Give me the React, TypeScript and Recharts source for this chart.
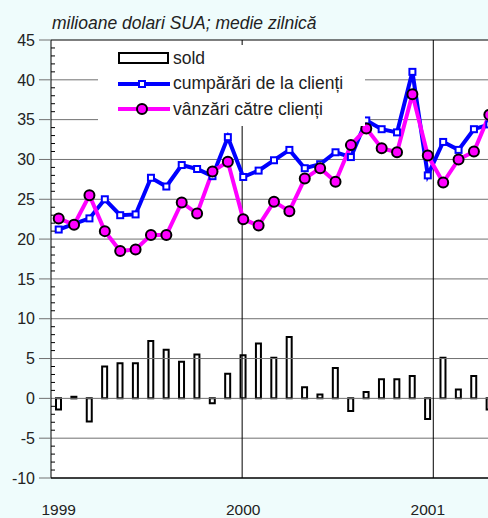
import { Bar, ComposedChart, Legend, Line, ReferenceLine, XAxis, YAxis } from "recharts";

const FONT = '"Liberation Sans", Arial, Helvetica, sans-serif';

// lunar, ian. 1999 - mai 2001
const months = [
  "1999-01", "1999-02", "1999-03", "1999-04", "1999-05", "1999-06",
  "1999-07", "1999-08", "1999-09", "1999-10", "1999-11", "1999-12",
  "2000-01", "2000-02", "2000-03", "2000-04", "2000-05", "2000-06",
  "2000-07", "2000-08", "2000-09", "2000-10", "2000-11", "2000-12",
  "2001-01", "2001-02", "2001-03", "2001-04", "2001-05",
];

const cumparari = [
  21.2, 21.9, 22.6, 25.0, 23.0, 23.1, 27.7, 26.6, 29.3, 28.8, 27.9, 32.8,
  27.8, 28.6, 29.9, 31.2, 28.9, 29.4, 30.9, 30.3, 34.9, 33.8, 33.4, 41.0,
  28.0, 32.2, 31.2, 33.8, 34.4,
];

const vanzari = [
  22.6, 21.8, 25.5, 21.0, 18.5, 18.7, 20.5, 20.5, 24.6, 23.2, 28.5, 29.7,
  22.5, 21.7, 24.7, 23.5, 27.6, 28.9, 27.2, 31.8, 33.9, 31.4, 30.9, 38.2,
  30.5, 27.1, 30.0, 31.0, 35.6,
];

const sold = [
  -1.4, 0.2, -2.9, 4.0, 4.4, 4.4, 7.2, 6.1, 4.6, 5.5, -0.6, 3.1,
  5.4, 6.9, 5.1, 7.7, 1.4, 0.5, 3.8, -1.6, 0.8, 2.4, 2.4, 2.8,
  -2.6, 5.1, 1.1, 2.8, -1.4,
];

const yearTicks = ["1999-01", "2000-01", "2001-01"];
const yearBreaks = [12, 24];
const gridValues = [-5, 0, 5, 10, 15, 20, 25, 30, 35, 40];
const yTicks = Array.from({ length: 56 }, (_, i) => i - 10);

const legendNames = ["sold", "cumpărări de la clienți", "vânzări către clienți"];

const data = months.map((m, i) => ({
  m,
  buy: cumparari[i],
  sell: vanzari[i],
  sold: sold[i],
}));

function YTick({ x, y, payload }: any) {
  const v = payload.value;
  if (v % 5 !== 0) {
    return <line x1={x} x2={x + 4} y1={y} y2={y} stroke="#000" strokeWidth={1} />;
  }
  return (
    <g>
      <line x1={x - 12} x2={x} y1={y} y2={y} stroke="#707070" strokeWidth={1} />
      <text x={x - 16} y={y} dy="0.36em" textAnchor="end" fontFamily={FONT} fontSize={16} fill="#222">
        {v}
      </text>
    </g>
  );
}

function XTick({ x, y, payload }: any) {
  return (
    <text x={x} y={y + 37} textAnchor="middle" fontFamily={FONT} fontSize={15.5} fill="#222">
      {String(payload.value).slice(0, 4)}
    </text>
  );
}

function SquareDot({ cx, cy }: any) {
  return <rect x={cx - 3} y={cy - 3} width={6} height={6} fill="#fff" stroke="#0000ff" strokeWidth={2} />;
}

function LegendBox() {
  return (
    <div style={{ width: 267, height: 81, background: "#fff", position: "relative", fontFamily: FONT, fontSize: 17.5, color: "#222" }}>
      {legendNames.map((name, i) => (
        <div
          key={name}
          style={{ position: "absolute", left: 0, top: 3 + i * 25.5, height: 20, display: "flex", alignItems: "center", whiteSpace: "nowrap" }}
        >
          <svg width={75} height={20} style={{ display: "block" }}>
            {i === 0 && <rect x={21} y={5} width={49} height={10} fill="#fff" stroke="#000" strokeWidth={2} />}
            {i === 1 && (
              <>
                <line x1={20} x2={72} y1={10} y2={10} stroke="#0000ff" strokeWidth={4} />
                <rect x={41} y={7} width={6} height={6} fill="#fff" stroke="#0000ff" strokeWidth={2} />
              </>
            )}
            {i === 2 && (
              <>
                <line x1={20} x2={72} y1={10} y2={10} stroke="#ff00ff" strokeWidth={4} />
                <circle cx={44} cy={10} r={5} fill="#ff00ff" stroke="#000" strokeWidth={2} />
              </>
            )}
          </svg>
          <span>{name}</span>
        </div>
      ))}
    </div>
  );
}

export default function App() {
  return (
    <div style={{ position: "fixed", left: 0, top: 0, width: 488, height: 518, overflow: "hidden", background: "#effcfc" }}>
      <div
        style={{ position: "absolute", left: 52, top: 13, fontFamily: FONT, fontSize: 17.5, lineHeight: "20px", fontStyle: "italic", color: "#222", whiteSpace: "nowrap" }}
      >
        milioane dolari SUA; medie zilnică
      </div>
      <ComposedChart width={500} height={518} data={data} margin={{ top: 40, right: 3, bottom: 0, left: 0 }}>
        <rect x={51} y={40} width={446} height={438} fill="#fff" />
        <XAxis
          dataKey="m"
          ticks={yearTicks}
          tick={<XTick />}
          tickLine={false}
          tickSize={0}
          tickMargin={0}
          height={40}
          axisLine={{ stroke: "#000" }}
          interval={0}
        />
        <XAxis xAxisId="yr" type="number" domain={[0, 29]} hide />
        <YAxis
          yAxisId="v"
          domain={[-10, 45]}
          ticks={yTicks}
          interval={0}
          tick={<YTick />}
          tickLine={false}
          tickSize={0}
          tickMargin={0}
          width={51}
          axisLine={{ stroke: "#000" }}
        />
        {gridValues.map((v) => (
          <ReferenceLine key={`g${v}`} yAxisId="v" y={v} stroke="#707070" strokeWidth={1} />
        ))}
        <ReferenceLine yAxisId="v" y={45} stroke="#000" strokeWidth={1} />
        <ReferenceLine yAxisId="v" y={-10} stroke="#000" strokeWidth={1} />
        {yearBreaks.map((b) => (
          <ReferenceLine key={`yb${b}`} xAxisId="yr" yAxisId="v" x={b} stroke="#000" strokeWidth={1} />
        ))}
        <Bar yAxisId="v" dataKey="sold" barSize={5} fill="#fff" stroke="#000" strokeWidth={2} isAnimationActive={false} />
        <Line
          yAxisId="v"
          dataKey="buy"
          stroke="#0000ff"
          strokeWidth={4}
          dot={(p: any) => <SquareDot key={`sq-${p.index}`} {...p} />}
          isAnimationActive={false}
        />
        <Line
          yAxisId="v"
          dataKey="sell"
          stroke="#ff00ff"
          strokeWidth={4}
          dot={{ r: 5, fill: "#ff00ff", stroke: "#000", strokeWidth: 2 }}
          isAnimationActive={false}
        />
        <Legend
          layout="vertical"
          align="center"
          verticalAlign="middle"
          content={<LegendBox />}
          wrapperStyle={{ left: 98, top: 45, width: 267, height: 81 }}
        />
      </ComposedChart>
    </div>
  );
}
